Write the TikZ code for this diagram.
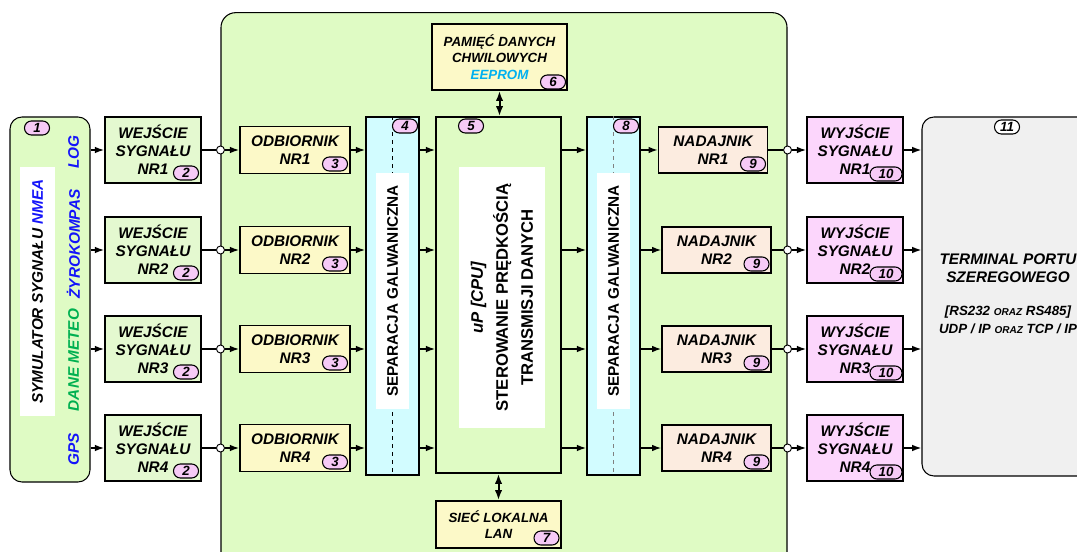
\documentclass[tikz,border=0pt]{standalone}
\usepackage{fontspec}
\setmainfont{Liberation Sans}
\usetikzlibrary{arrows.meta,calc}

\definecolor{bggreen}{RGB}{223,251,196}
\definecolor{wejfill}{RGB}{228,249,208}
\definecolor{yelfill}{RGB}{252,249,200}
\definecolor{sepfill}{RGB}{210,252,255}
\definecolor{nadfill}{RGB}{252,236,224}
\definecolor{wyjfill}{RGB}{252,214,252}
\definecolor{pillfill}{RGB}{246,202,246}
\definecolor{termfill}{RGB}{240,240,240}
\definecolor{nmeablue}{RGB}{20,20,250}
\definecolor{meteogreen}{RGB}{0,176,80}
\definecolor{eepcyan}{RGB}{0,176,240}

\newcommand{\oraz}{{\fontsize{7.5}{9}\selectfont ORAZ}}

\tikzset{
  blk/.style={draw, line width=1.2pt, align=center, inner sep=0pt,
    font=\fontsize{11.5}{13.5}\selectfont\bfseries\itshape},
  wejbox/.style={blk, fill=wejfill, minimum width=72pt, minimum height=49.5pt},
  odbbox/.style={blk, fill=yelfill, minimum width=82.5pt, minimum height=35pt},
  nadbox/.style={blk, fill=nadfill, minimum width=81.5pt, minimum height=34.5pt},
  wyjbox/.style={blk, fill=wyjfill, minimum width=72pt, minimum height=49.5pt},
  sepbox/.style={blk, fill=sepfill, minimum width=39.75pt, minimum height=268.5pt},
  memobox/.style={blk, fill=yelfill, font=\fontsize{10}{12.4}\selectfont\bfseries\itshape},
  septxt/.style={rotate=90, fill=white, inner sep=0pt, minimum width=177pt,
    minimum height=24.75pt, font=\fontsize{11.5}{13.5}\selectfont\bfseries},
  sidelbl/.style={rotate=90, inner sep=0pt, font=\fontsize{11.5}{13.5}\selectfont\bfseries\itshape},
  pill/.style={draw, line width=0.8pt, fill=pillfill, rounded corners=5.2pt, inner sep=0pt,
    minimum width=18.75pt, minimum height=10.5pt, font=\fontsize{10}{10}\selectfont\bfseries\itshape},
  jdot/.style={circle, draw, fill=white, line width=0.7pt, minimum size=6pt, inner sep=0pt},
  wire/.style={line width=1.2pt},
  arr/.style={wire, -{Latex[length=7pt,width=5pt]}},
  dbl/.style={line width=1.5pt, {Latex[length=7.5pt,width=5.5pt]}-{Latex[length=7.5pt,width=5.5pt]}}
}

\begin{document}
\begin{tikzpicture}[x=0.75pt,y=0.75pt,yscale=-1,xscale=1]
\useasboundingbox (0,0) rectangle (1077,552);
\clip (0,0) rectangle (1077,552);

%Main board
\node[draw, line width=0.8pt, fill=bggreen, rounded corners=11pt, minimum width=424.5pt, minimum height=428pt] (board) at (504,298) {};

%Simulator
\node[draw, line width=0.8pt, fill=bggreen, rounded corners=9pt, minimum width=60pt, minimum height=273.75pt] (sym) at (50,299.5) {};
\node[pill] (p1) at (37,128) {1};
\node[sidelbl, fill=white, minimum width=186.75pt, minimum height=26.25pt] (symtxt) at (37.5,291.5) {SYMULATOR SYGNAŁU \textcolor{nmeablue}{NMEA}};
\node[sidelbl, text=nmeablue] (log) at (73.5,152) {LOG};
\node[sidelbl, text=nmeablue] (gyro) at (73.5,244) {ŻYROKOMPAS};
\node[sidelbl, text=meteogreen] (meteo) at (73.5,360) {DANE METEO};
\node[sidelbl, text=nmeablue] (gps) at (73.5,449) {GPS};

%Galvanic separation, left
\node[sepbox] (sep1) at (392.5,296) {};
\draw[line width=0.7pt, dashed] (sep1.north) -- (sep1.south);
\node[septxt] (sep1txt) at (392.5,291) {SEPARACJA GALWANICZNA};
\node[pill] (p4) at (405,126) {4};

%CPU
\node[blk, fill=bggreen, minimum width=93.75pt, minimum height=267pt] (cpu) at (498.5,295) {};
\node[pill] (p5) at (471,126) {5};
\node[rotate=90, fill=white, inner sep=0pt, minimum width=195.75pt, minimum height=64.5pt, align=center,
  font=\fontsize{12.5}{18.75}\selectfont\bfseries] (cputxt) at (502,297.5)
  {\textit{uP [CPU]}\\STEROWANIE PRĘDKOŚCIĄ\\TRANSMISJI DANYCH};

%Galvanic separation, right
\node[sepbox] (sep2) at (613.5,296) {};
\draw[line width=0.7pt, dashed, gray] (sep2.north) -- (sep2.south);
\node[septxt] (sep2txt) at (613.5,291) {SEPARACJA GALWANICZNA};
\node[pill] (p8) at (626,126) {8};

%Memory and LAN
\node[memobox, minimum width=101.25pt, minimum height=49.5pt] (eep) at (499.5,57) {PAMIĘĆ DANYCH\\CHWILOWYCH\\\textcolor{eepcyan}{EEPROM}};
\node[pill] (p6) at (553,82) {6};
\node[memobox, minimum width=93.75pt, minimum height=35.25pt] (lan) at (498.5,524.5) {SIEĆ LOKALNA\\LAN};
\node[pill] (p7) at (546.5,538) {7};
\draw[dbl] (eep.south) -- (eep.south |- cpu.north);
\draw[dbl] (cpu.south) -- (lan.north);

%Terminal
\node[draw, line width=0.8pt, fill=termfill, rounded corners=9pt, minimum width=126pt, minimum height=269.25pt] (term) at (1006,296.5) {};
\node[pill, fill=white] (p11) at (1007,127) {11};
\node[align=center, inner sep=0pt, font=\fontsize{11.5}{13.5}\selectfont\bfseries\itshape] (termtxt) at (1008,294)
  {TERMINAL PORTU\\SZEREGOWEGO\\[11pt]{\fontsize{10}{13.5}\selectfont [RS232 \oraz{} RS485]}\\{\fontsize{10}{13.5}\selectfont UDP / IP \oraz{} TCP / IP}};

%Signal rows
\foreach \i/\y/\nx in {1/150/713,2/250/716.5,3/349/716.5,4/448/716.5}{
  \node[wejbox] (wej\i) at (153,\y) {WEJŚCIE\\SYGNAŁU\\NR\i};
  \node[pill] at (186,\y+23) {2};
  \node[odbbox] (odb\i) at (295,\y) {ODBIORNIK\\NR\i};
  \node[pill] at (335,\y+14) {3};
  \node[nadbox] (nad\i) at (\nx,\y) {NADAJNIK\\NR\i};
  \node[pill] at (\nx+40,\y+14) {9};
  \node[wyjbox] (wyj\i) at (855,\y) {WYJŚCIE\\SYGNAŁU\\NR\i};
  \node[pill, minimum width=24pt] at (886,\y+24) {10};
  \node[jdot] (jl\i) at (board.west |- wej\i) {};
  \node[jdot] (jr\i) at (board.east |- wyj\i) {};
  \draw[arr] (sym.east |- wej\i) -- (wej\i);
  \draw[wire] (wej\i) -- (jl\i);
  \draw[arr] (jl\i) -- (odb\i);
  \draw[arr] (odb\i) -- (odb\i -| sep1.west);
  \draw[arr] (sep1.east |- odb\i) -- (odb\i -| cpu.west);
  \draw[arr] (cpu.east |- odb\i) -- (odb\i -| sep2.west);
  \draw[arr] (sep2.east |- nad\i) -- (nad\i);
  \draw[wire] (nad\i) -- (jr\i);
  \draw[arr] (jr\i) -- (wyj\i);
  \draw[arr] (wyj\i) -- (wyj\i -| term.west);
}
\end{tikzpicture}
\end{document}
